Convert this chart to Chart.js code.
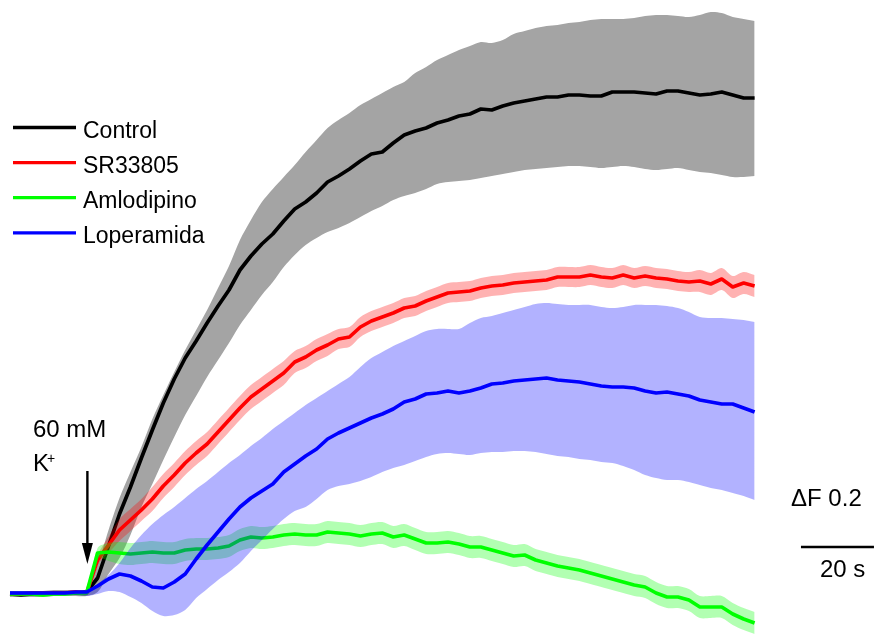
<!doctype html>
<html lang="es">
<head>
<meta charset="utf-8">
<title>Respuesta a 60 mM K+</title>
<script src="https://cdn.jsdelivr.net/npm/chart.js@4.4.0/dist/chart.umd.min.js"></script>
<style>
  html, body { margin: 0; padding: 0; background: #fff; }
  #wrap { width: 874px; height: 634px; position: relative; }
</style>
</head>
<body>
<div id="wrap"><canvas id="traza"></canvas></div>

<script>
// tiempo (s), una muestra cada 3 s
const tiempo = [0,3,6,9,12,15,18,21,24,27,30,33,36,39,42,45,48,51,54,57,60,63,66,69,72,75,78,81,84,87,
  90,93,96,99,102,105,108,111,114,117,120,123,126,129,132,135,138,141,144,147,150,153,156,159,162,165,168,171,174,177,
  180,183,186,189,192,195,198,201,204];

const nombres = ["Control", "SR33805", "Amlodipino", "Loperamida"];
const colores = ["#000000", "#ff0000", "#00ff00", "#0000ff"];

// ΔF media y limites de la banda
const control = [0.000,-0.001,0.000,0.000,0.001,0.001,0.001,0.002,0.016,0.048,
  0.080,0.107,0.136,0.164,0.191,0.215,0.236,0.253,0.271,0.288,
  0.304,0.324,0.338,0.350,0.360,0.373,0.385,0.392,0.401,0.412,
  0.418,0.425,0.433,0.440,0.442,0.451,0.459,0.463,0.466,0.471,
  0.474,0.478,0.480,0.485,0.484,0.488,0.491,0.493,0.495,0.497,
  0.497,0.499,0.499,0.498,0.498,0.502,0.502,0.502,0.501,0.500,
  0.503,0.503,0.501,0.499,0.500,0.502,0.499,0.496,0.496];
const controlHi = [0.003,0.003,0.003,0.003,0.004,0.004,0.004,0.005,0.029,0.064,
  0.096,0.122,0.147,0.175,0.199,0.222,0.244,0.264,0.284,0.306,
  0.328,0.354,0.374,0.392,0.405,0.417,0.429,0.442,0.454,0.466,
  0.474,0.481,0.489,0.495,0.501,0.507,0.512,0.521,0.527,0.534,
  0.539,0.544,0.548,0.552,0.551,0.554,0.560,0.563,0.566,0.568,
  0.569,0.571,0.572,0.574,0.575,0.575,0.575,0.576,0.578,0.579,
  0.579,0.578,0.577,0.579,0.582,0.581,0.577,0.575,0.573];
const controlLo = [-0.003,-0.003,-0.003,-0.003,-0.002,-0.002,-0.002,-0.002,0.002,0.020,
  0.036,0.059,0.087,0.110,0.134,0.157,0.179,0.198,0.217,0.234,
  0.251,0.269,0.284,0.299,0.312,0.327,0.339,0.349,0.356,0.362,
  0.366,0.371,0.377,0.383,0.388,0.394,0.398,0.401,0.405,0.410,
  0.412,0.413,0.414,0.416,0.418,0.420,0.422,0.424,0.425,0.426,
  0.427,0.428,0.428,0.427,0.426,0.427,0.428,0.427,0.425,0.424,
  0.425,0.426,0.424,0.422,0.421,0.419,0.417,0.417,0.418];

const sr = [0.000,0.000,0.001,0.001,0.001,0.001,0.002,0.001,0.034,0.049,
  0.064,0.074,0.084,0.095,0.108,0.119,0.131,0.141,0.150,0.162,
  0.174,0.186,0.197,0.205,0.213,0.221,0.232,0.237,0.244,0.249,
  0.255,0.257,0.267,0.273,0.277,0.281,0.286,0.288,0.293,0.297,
  0.301,0.302,0.303,0.306,0.308,0.309,0.311,0.312,0.313,0.314,
  0.317,0.317,0.317,0.319,0.317,0.316,0.319,0.316,0.318,0.316,
  0.315,0.313,0.312,0.313,0.310,0.315,0.307,0.311,0.308];
const srSem = [0.002,0.002,0.002,0.002,0.002,0.002,0.002,0.002,0.005,0.008,
  0.011,0.011,0.011,0.012,0.012,0.012,0.012,0.012,0.012,0.012,
  0.012,0.012,0.012,0.012,0.012,0.012,0.011,0.011,0.011,0.011,
  0.010,0.010,0.010,0.010,0.010,0.010,0.010,0.010,0.010,0.010,
  0.010,0.010,0.010,0.010,0.010,0.010,0.010,0.010,0.010,0.010,
  0.010,0.010,0.010,0.010,0.010,0.010,0.010,0.010,0.010,0.010,
  0.010,0.010,0.010,0.011,0.011,0.011,0.011,0.011,0.011];

const amlo = [0.000,0.000,0.000,-0.001,0.000,0.000,0.001,0.001,0.041,0.042,
  0.041,0.040,0.041,0.042,0.041,0.041,0.044,0.045,0.045,0.046,
  0.048,0.054,0.057,0.056,0.057,0.059,0.060,0.059,0.059,0.062,
  0.061,0.060,0.058,0.060,0.061,0.057,0.059,0.055,0.051,0.051,
  0.052,0.050,0.047,0.047,0.044,0.041,0.038,0.039,0.034,0.031,
  0.028,0.026,0.024,0.021,0.018,0.015,0.012,0.009,0.007,0.001,
  -0.003,-0.003,-0.006,-0.013,-0.013,-0.013,-0.020,-0.025,-0.029];
const amloSem = [0.002,0.002,0.002,0.002,0.002,0.002,0.002,0.002,0.005,0.009,
  0.011,0.011,0.011,0.011,0.011,0.011,0.011,0.011,0.011,0.011,
  0.011,0.011,0.011,0.011,0.011,0.011,0.011,0.011,0.011,0.011,
  0.011,0.011,0.011,0.011,0.011,0.011,0.011,0.011,0.011,0.011,
  0.011,0.011,0.011,0.011,0.011,0.011,0.011,0.011,0.011,0.011,
  0.011,0.011,0.011,0.011,0.011,0.011,0.011,0.011,0.011,0.011,
  0.011,0.011,0.011,0.011,0.011,0.011,0.011,0.011,0.011];

const lope = [0.001,0.001,0.001,0.001,0.001,0.001,0.002,0.002,0.008,0.015,
  0.020,0.018,0.013,0.007,0.006,0.012,0.020,0.035,0.049,0.062,
  0.075,0.087,0.096,0.103,0.110,0.122,0.130,0.138,0.145,0.155,
  0.161,0.166,0.171,0.176,0.180,0.185,0.192,0.195,0.200,0.201,
  0.203,0.201,0.203,0.206,0.210,0.211,0.213,0.214,0.215,0.216,
  0.214,0.213,0.212,0.210,0.208,0.207,0.207,0.206,0.203,0.201,
  0.202,0.200,0.198,0.194,0.192,0.190,0.190,0.186,0.182];
const lopeHi = [0.003,0.003,0.003,0.003,0.003,0.003,0.003,0.002,0.010,0.019,
  0.031,0.046,0.059,0.070,0.079,0.087,0.096,0.105,0.113,0.122,
  0.131,0.139,0.148,0.156,0.165,0.173,0.181,0.189,0.196,0.203,
  0.210,0.217,0.227,0.236,0.242,0.248,0.253,0.258,0.263,0.265,
  0.265,0.265,0.271,0.276,0.278,0.281,0.284,0.287,0.290,0.291,
  0.290,0.289,0.289,0.289,0.287,0.286,0.287,0.289,0.289,0.289,
  0.288,0.286,0.282,0.277,0.276,0.276,0.275,0.274,0.272];
const lopeLo = [-0.001,-0.001,-0.001,-0.001,-0.001,-0.001,-0.001,-0.002,0.000,0.003,
  0.002,-0.003,-0.009,-0.017,-0.022,-0.021,-0.016,-0.004,0.005,0.014,
  0.022,0.031,0.043,0.054,0.065,0.075,0.083,0.087,0.095,0.104,
  0.108,0.110,0.113,0.117,0.122,0.126,0.129,0.133,0.137,0.140,
  0.141,0.140,0.139,0.141,0.142,0.142,0.143,0.143,0.142,0.140,
  0.138,0.137,0.135,0.134,0.132,0.131,0.128,0.124,0.119,0.116,
  0.114,0.114,0.112,0.109,0.106,0.104,0.101,0.098,0.094];

// barra de escala (20 s) y flecha del estimulo
const barraX = [216.7, 236.7];
const barraY = 0.047;
const estimuloT = 21.2;
const flechaDesde = 0.123, flechaHasta = 0.030;

function pts(arr) {
  return arr.map(function (v, i) { return { x: tiempo[i], y: v }; });
}

let dsets = [];
function addSerie(nombre, media, lo, hi, color, banda, ord) {
  let iLo = dsets.length;
  // bandas suavizadas, la linea media queda quebrada como en el original
  dsets.push({ label: nombre + "_lo", data: pts(lo), borderWidth: 0, borderColor: "rgba(0,0,0,0)", tension: 0.3, fill: false, order: ord + 1 });
  dsets.push({ label: nombre + "_hi", data: pts(hi), borderWidth: 0, borderColor: "rgba(0,0,0,0)", tension: 0.3, fill: { target: iLo }, backgroundColor: banda, order: ord + 1 });
  dsets.push({ label: nombre, data: pts(media), borderColor: color, borderWidth: 3.7, fill: false, order: ord });
}

addSerie("Control", control, controlLo, controlHi, colores[0], "#a4a4a4", 7);
addSerie("SR33805", sr, sr.map((v, i) => v - srSem[i]), sr.map((v, i) => v + srSem[i]), colores[1], "rgba(255,0,0,0.3)", 5);
addSerie("Amlodipino", amlo, amlo.map((v, i) => v - amloSem[i]), amlo.map((v, i) => v + amloSem[i]), colores[2], "rgba(0,255,0,0.3)", 3);
addSerie("Loperamida", lope, lopeLo, lopeHi, colores[3], "rgba(0,0,255,0.3)", 1);
dsets.push({ label: "escala", data: barraX.map(x => ({ x: x, y: barraY })), borderColor: "#000", borderWidth: 2.6, fill: false, order: 0 });

const FONT = '"Liberation Sans", Arial, Helvetica, sans-serif';

const anotaciones = {
  id: "anotaciones",
  afterDatasetsDraw(chart) {
    const ctx = chart.ctx;
    const xs = chart.scales.x, ys = chart.scales.y;
    ctx.save();

    // leyenda
    ctx.textBaseline = "alphabetic";
    ctx.textAlign = "left";
    ctx.font = "23px " + FONT;
    nombres.forEach(function (n, k) {
      let y = 127.5 + k * 35.1;
      ctx.strokeStyle = colores[k];
      ctx.lineWidth = 3.3;
      ctx.beginPath();
      ctx.moveTo(13, y);
      ctx.lineTo(76, y);
      ctx.stroke();
      ctx.fillStyle = "#000";
      ctx.fillText(n, 83, y + 10);
    });

    // flecha 60 mM K+
    let ax = xs.getPixelForValue(estimuloT);
    let y0 = ys.getPixelForValue(flechaDesde);
    let y1 = ys.getPixelForValue(flechaHasta);
    ctx.strokeStyle = "#000";
    ctx.fillStyle = "#000";
    ctx.lineWidth = 2.4;
    ctx.beginPath();
    ctx.moveTo(ax, y0);
    ctx.lineTo(ax, y1 - 18);
    ctx.stroke();
    ctx.beginPath();
    ctx.moveTo(ax - 5.5, y1 - 21);
    ctx.lineTo(ax + 5.5, y1 - 21);
    ctx.lineTo(ax, y1);
    ctx.closePath();
    ctx.fill();

    ctx.font = "24px " + FONT;
    ctx.fillText("60 mM", 33, 437);
    ctx.fillText("K", 33, 471);
    ctx.font = "14px " + FONT;
    ctx.fillText("+", 47, 463);

    // textos de la barra de escala
    ctx.font = "24px " + FONT;
    ctx.fillText("\u0394F 0.2", 791, 506);
    ctx.fillText("20 s", 820, 577);

    ctx.restore();
  }
};

new Chart("traza", {
  type: "line",
  data: { datasets: dsets },
  options: {
    responsive: true,
    maintainAspectRatio: false,
    animation: false,
    layout: { padding: 0 },
    elements: {
      point: { radius: 0, hoverRadius: 0 },
      line: { tension: 0, borderJoinStyle: "round" }
    },
    plugins: {
      legend: { display: false },
      tooltip: { enabled: false }
    },
    scales: {
      x: { type: "linear", min: -2.74, max: 236.71, display: false },
      y: { type: "linear", min: -0.040, max: 0.594, display: false }
    }
  },
  plugins: [anotaciones]
});
</script>
</body>
</html>
